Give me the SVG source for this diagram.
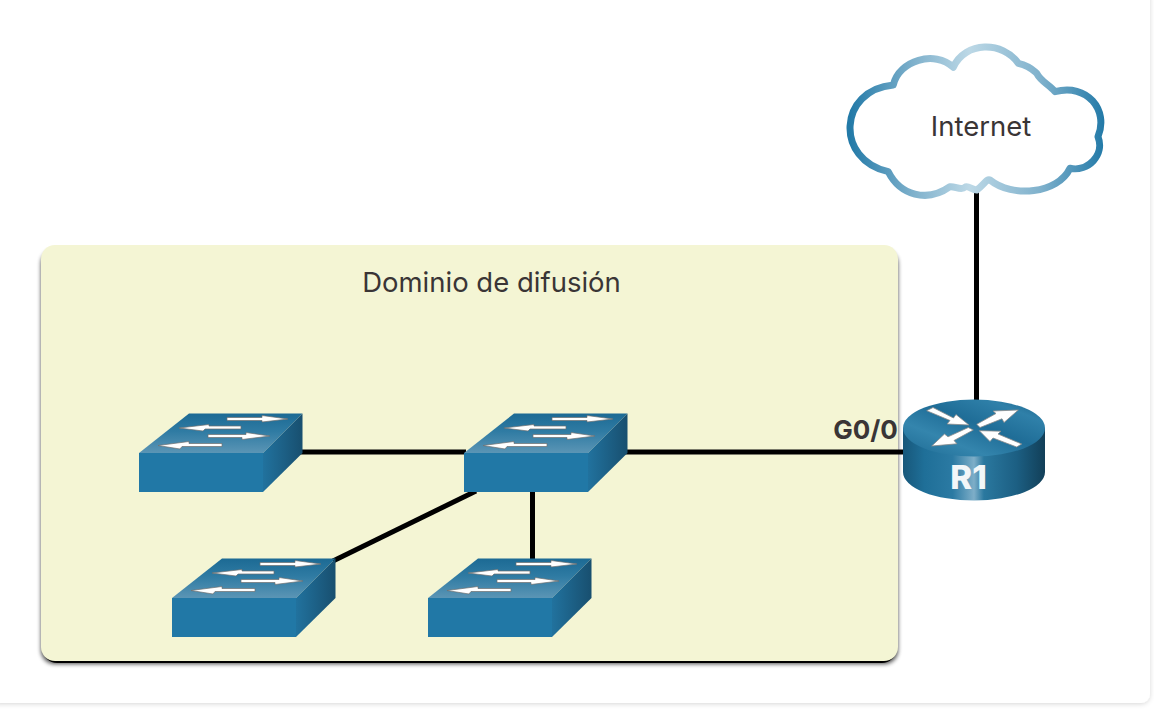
<svg xmlns="http://www.w3.org/2000/svg" width="1154" height="713" viewBox="0 0 1154 713">
<style>
text{font-family:Inter,"Open Sans","Liberation Sans",sans-serif;fill:#3a3536}
.lbl{font-size:27.500px}
.bold{font-size:26px;font-weight:700}
.link{stroke:#000;stroke-width:5;fill:none}
.ar{fill:#fff;stroke:#6f6f6f;stroke-width:.7}
.rar{fill:#fff;stroke:#8a8a8a;stroke-width:.8}
</style>
<defs>
<filter id="cardS" x="-5%" y="-5%" width="110%" height="110%"><feDropShadow dx="0" dy="1" stdDeviation="2.5" flood-color="#000" flood-opacity=".16"/></filter>
<filter id="boxS" x="-3%" y="-3%" width="106%" height="106%"><feGaussianBlur stdDeviation="2"/></filter>
<linearGradient id="swTop" x1="0" y1="0" x2="0" y2="1"><stop offset="0" stop-color="#1c6a94"/><stop offset=".45" stop-color="#2f7ba3"/><stop offset="1" stop-color="#5b95b5"/></linearGradient>
<linearGradient id="swSide" x1="0" y1="0" x2="1" y2="0"><stop offset="0" stop-color="#21729e"/><stop offset="1" stop-color="#184f6f"/></linearGradient>
<linearGradient id="rTop" x1="0" y1="1" x2="1" y2="0"><stop offset="0" stop-color="#1d6a93"/><stop offset=".3" stop-color="#3485ad"/><stop offset=".55" stop-color="#1f6d97"/><stop offset=".8" stop-color="#2f80a9"/><stop offset="1" stop-color="#1a5f85"/></linearGradient>
<linearGradient id="rSide" x1="0" y1="0" x2="1" y2="0"><stop offset="0" stop-color="#17577a"/><stop offset=".15" stop-color="#1f6f98"/><stop offset=".35" stop-color="#2b7aa3"/><stop offset=".5" stop-color="#7eaec8"/><stop offset=".57" stop-color="#2a789f"/><stop offset=".8" stop-color="#1c5f83"/><stop offset="1" stop-color="#123f58"/></linearGradient>
<linearGradient id="cloudG" gradientUnits="userSpaceOnUse" x1="850" y1="0" x2="1104" y2="0"><stop offset="0" stop-color="#237aa8"/><stop offset=".25" stop-color="#7fb1cc"/><stop offset=".47" stop-color="#bcd8e6"/><stop offset=".75" stop-color="#7fb1cc"/><stop offset="1" stop-color="#237aa8"/></linearGradient>
<g id="sw">
<polygon points="139,453 189,413.500 302.500,413.500 263,453" fill="url(#swTop)"/>
<polygon points="263,453 302.500,413.500 302.500,453 263,492" fill="url(#swSide)"/>
<rect x="139" y="453" width="124" height="39" fill="#2178a6"/>
<polygon class="ar" points="227,417.500 262,417.500 262,415.500 288,419 262,422 262,420.500 227,420.500"/>
<polygon class="ar" points="241,426 209,426 209,424.500 179,428 203,431 205,429 241,429"/>
<polygon class="ar" points="208,434.500 246,434.500 246,432.500 270,436 242,439.500 242,437.500 208,437.500"/>
<polygon class="ar" points="222,443.500 189,443.500 189,441.500 158,445.500 180,449 182,446.500 222,446.500"/>
</g>
</defs>
<rect width="1154" height="713" fill="#fff"/>
<rect x="-12" y="-12" width="1162" height="715" rx="9" fill="#fff" filter="url(#cardS)"/>
<g id="broadcast-domain">
<rect x="41" y="250" width="857" height="414" rx="14" fill="#000" opacity=".7" filter="url(#boxS)"/>
<rect x="43" y="500" width="853" height="163" rx="14" fill="#000"/>
<rect x="41" y="245" width="857" height="416" rx="14" fill="#f4f5d4"/>
<text class="lbl" x="491.500" y="292" text-anchor="middle">Dominio de difusión</text>
</g>
<g id="connectors">
<line class="link" x1="300" y1="452" x2="466" y2="452"/>
<line class="link" x1="624" y1="452" x2="906" y2="452"/>
<line class="link" x1="476" y1="491" x2="333" y2="561"/>
<line class="link" x1="532.500" y1="491" x2="532.500" y2="560"/>
<line class="link" x1="976.500" y1="192" x2="976.500" y2="402"/>
</g>
<g id="switch-1"><use href="#sw"/></g>
<g id="switch-2"><use href="#sw" x="325"/></g>
<g id="switch-3"><use href="#sw" x="33" y="145"/></g>
<g id="switch-4"><use href="#sw" x="289" y="145"/></g>
<g id="router-r1">
<path d="M903,428 V472 A71,28.500 0 0 0 1045,472 V428 Z" fill="url(#rSide)"/>
<ellipse cx="974" cy="428" rx="71" ry="28.500" fill="url(#rTop)"/>
<polygon class="rar" points="926.700,410.700 933,407.500 953.500,418 956,414.500 969,425 947,424 950,420.500"/>
<polygon class="rar" points="976.700,424.300 996,413.500 993,411 1018.300,410 1004,422.500 1002,418.800 980,427.500"/>
<polygon class="rar" points="973.300,430 954,440.500 957,443.800 931.700,446 944.500,434 948,436.800 968.300,427.500"/>
<polygon class="rar" points="979.300,430.700 1001,431.200 998,434 1021.700,444 1016.700,447 993,438 990,441.500"/>
<text x="968.500" y="489" text-anchor="middle" font-size="33" font-weight="800" style="fill:#f2f6f8">R1</text>
</g>
<text class="bold" x="865.500" y="439" text-anchor="middle">G0/0</text>
<g id="internet-cloud">
<path d="M953.300,67.300 C965,41 1003,41 1018.300,63.300 C1030,66 1033,70 1036.700,73.300 C1041,82 1049,84 1055,91.700 C1087,83 1109,110 1098,136.700 C1105,155 1088,172 1070,168.300 C1058,194 1012,198 990,180 C987,178 983,186 976.700,190 C972,190 968,185 965,187.300 C961,191 955,186 950,186.700 C927,203 900,195 888.300,171.700 C835,160 838,90 893.300,85 C899,60 935,50 953.300,67.300 Z" fill="#fff" stroke="url(#cloudG)" stroke-width="7" stroke-linejoin="round"/>
<text class="lbl" x="981" y="136" text-anchor="middle">Internet</text>
</g>
</svg>
